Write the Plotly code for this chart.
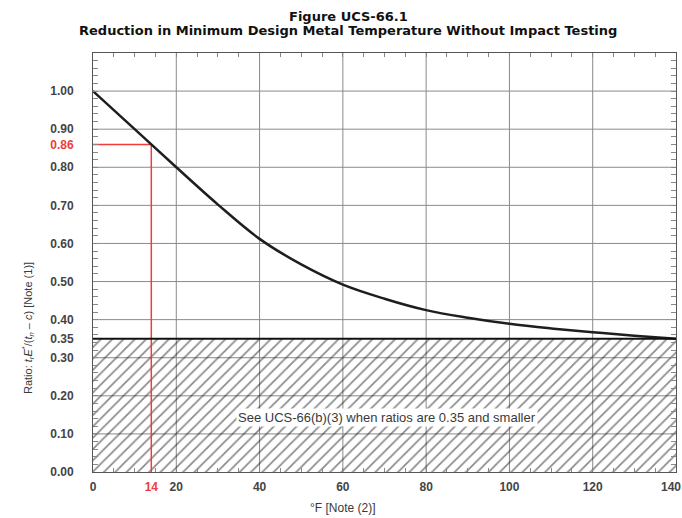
import plotly.graph_objects as go

# ---- data ----
temp_f = [0, 10, 14, 20, 30, 40, 50, 60, 70, 80, 90, 100, 110, 120, 130, 140]
ratio = [1.00, 0.90, 0.86, 0.80, 0.702, 0.612, 0.545, 0.492, 0.455, 0.425, 0.405, 0.389, 0.377, 0.367, 0.358, 0.35]

x_ticks = [0, 14, 20, 40, 60, 80, 100, 120, 140]
x_labels = ["0", "<span style='color:#f03c3c'>14</span>", "20", "40", "60", "80", "100", "120",
            "140\u00a0\u00a0\u00a0"]
x_grid = [20, 40, 60, 80, 100, 120]
x_minor = list(range(0, 141, 5))

y_ticks = [0.0, 0.1, 0.2, 0.3, 0.35, 0.4, 0.5, 0.6, 0.7, 0.8, 0.86, 0.9, 1.0]
y_labels = ["0.00", "0.10", "0.20", "0.30", "0.35", "0.40", "0.50", "0.60", "0.70", "0.80",
            "<span style='color:#f03c3c'>0.86</span>", "0.90", "1.00"]
y_grid = [0.1, 0.2, 0.3, 0.4, 0.5, 0.6, 0.7, 0.8, 0.9, 1.0]
y_minor = [round(i * 0.02, 2) for i in range(56)]

limit_ratio = 0.35
example_temp = 14
example_ratio = 0.86
x_max = 140
y_max = 1.1

GRID = "#8a8a8a"
RED = "#f03c3c"
TXT = "#3a3a3a"

fig = go.Figure()

# grid lines
gx, gy = [], []
for v in x_grid:
    gx += [v, v, None]
    gy += [0, y_max, None]
for v in y_grid:
    gx += [0, x_max, None]
    gy += [v, v, None]
fig.add_trace(go.Scatter(x=gx, y=gy, mode="lines", line=dict(color=GRID, width=1),
                         hoverinfo="skip", showlegend=False))

# hatched region
fig.add_trace(go.Scatter(
    x=[0, x_max, x_max, 0, 0], y=[0, 0, limit_ratio, limit_ratio, 0],
    mode="none", fill="toself", fillcolor="rgba(0,0,0,0)",
    fillpattern=dict(shape="/", fgcolor="#1a1a1a", bgcolor="rgba(255,255,255,0)", size=8, solidity=0.22),
    hoverinfo="skip", showlegend=False))

# red example lines
fig.add_trace(go.Scatter(x=[0, example_temp, example_temp], y=[example_ratio, example_ratio, 0],
                         mode="lines", line=dict(color=RED, width=1.5), hoverinfo="skip", showlegend=False))

# curve
fig.add_trace(go.Scatter(x=temp_f, y=ratio, mode="lines",
                         line=dict(color="#1e1e1e", width=2.5, shape="spline", smoothing=1.0),
                         showlegend=False))

# 0.35 line
fig.add_trace(go.Scatter(x=[0, x_max], y=[limit_ratio, limit_ratio], mode="lines",
                         line=dict(color="#111111", width=2), hoverinfo="skip", showlegend=False))

tickfont = dict(family="Liberation Sans, Arial, sans-serif", size=12, color="#444444", weight="bold")

fig.update_xaxes(range=[0, x_max], tickmode="array", tickvals=x_ticks, ticktext=x_labels,
                 showgrid=False, zeroline=False, showline=True, linecolor="#555555", linewidth=1,
                 mirror="allticks", ticks="inside", ticklen=0, tickcolor="#888888",
                 minor=dict(tickmode="array", tickvals=x_minor, ticks="inside", ticklen=4, tickcolor="#888888", showgrid=False),
                 tickfont=tickfont, ticklabelstandoff=4, ticklabeloverflow="allow", automargin=False)
fig.update_yaxes(range=[0, y_max], tickmode="array", tickvals=y_ticks, ticktext=y_labels,
                 showgrid=False, zeroline=False, showline=True, linecolor="#555555", linewidth=1,
                 mirror="allticks", ticks="inside", ticklen=0, tickcolor="#888888",
                 minor=dict(tickmode="array", tickvals=y_minor, ticks="inside", ticklen=5, tickcolor="#888888", showgrid=False),
                 tickfont=tickfont, ticklabelstandoff=16, automargin=False)

fig.add_annotation(x=70.6, y=0.144, xref="x", yref="y",
                   text="See UCS-66(b)(3) when ratios are 0.35 and smaller",
                   showarrow=False, bgcolor="white", borderpad=1,
                   font=dict(family="Liberation Sans, Arial, sans-serif", size=13, color=TXT))

fig.add_annotation(x=-0.1286, y=0.378, xref="paper", yref="y", textangle=-90,
                   text="Ratio: <i>t<sub>r</sub>E</i><sup>*</sup>/(<i>t<sub>n</sub></i> – <i>c</i>) [Note (1)]",
                   showarrow=False,
                   font=dict(family="Liberation Sans Narrow, Liberation Sans, Arial, sans-serif", size=11, color=TXT))

fig.add_annotation(x=60, y=-36 / 419, xref="x", yref="paper", yanchor="middle",
                   text="°F [Note (2)]", showarrow=False,
                   font=dict(family="Liberation Sans, Arial, sans-serif", size=12, color=TXT))

ph = 518 - 53 - 46
pw = 682 - 93 - 6
title_font = dict(family="DejaVu Sans, Verdana, sans-serif", size=13, color="#111111", weight="bold")
fig.add_annotation(x=(348 - 93) / pw, y=(518 - 46 - 16) / ph, xref="paper", yref="paper", showarrow=False,
                   xanchor="center", yanchor="middle", text="Figure UCS-66.1", font=title_font)
fig.add_annotation(x=(348 - 93) / pw, y=(518 - 46 - 30) / ph, xref="paper", yref="paper", showarrow=False,
                   xanchor="center", yanchor="middle",
                   text="Reduction in Minimum Design Metal Temperature Without Impact Testing", font=title_font)

fig.update_layout(
    width=682, height=518,
    margin=dict(l=93, r=6, t=53, b=46, autoexpand=False),
    plot_bgcolor="white", paper_bgcolor="white",
)

fig.write_html("out.html")
